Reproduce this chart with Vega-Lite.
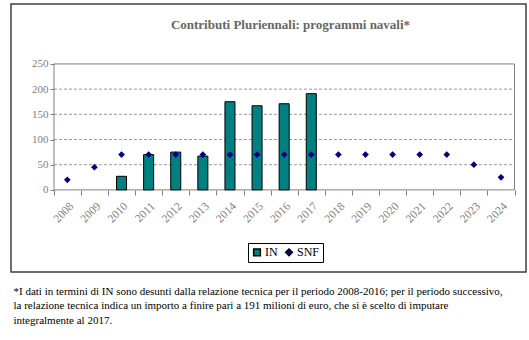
{
  "$schema": "https://vega.github.io/schema/vega-lite/v6.json",
  "width": 515,
  "height": 268,
  "autosize": {"type": "none"},
  "padding": {"left": 11, "top": 4, "right": 3, "bottom": 68},
  "title": {"text": "Contributi Pluriennali: programmi navali*", "font": "Liberation Serif", "fontSize": 13, "fontWeight": "bold", "color": "#666666", "offset": -34, "baseline": "middle", "dx": 22, "anchor": "middle"},
  "config": {"view": {"stroke": "#404040", "strokeWidth": 1.5}, "font": "Liberation Serif"},
  "resolve": {"scale": {"x": "independent"}},
  "layer": [
    {
      "data": {"values": [{"v": 50}, {"v": 100}, {"v": 150}, {"v": 200}]},
      "mark": {"type": "rule", "stroke": "#9a9a9a", "strokeDash": [3, 2], "strokeWidth": 1},
      "encoding": {
        "y": {"field": "v", "type": "quantitative", "scale": {"domain": [-163, 369], "nice": false, "zero": false}},
        "x": {"datum": 0, "type": "quantitative", "scale": {"domain": [-1.587, 17.424], "nice": false, "zero": false}, "axis": null},
        "x2": {"datum": 17}
      }
    },
    {
      "data": {"values": [{}]},
      "mark": {"type": "rect", "filled": false, "stroke": "#808080", "strokeWidth": 1},
      "encoding": {
        "y": {"datum": 0, "type": "quantitative", "scale": {"domain": [-163, 369], "nice": false, "zero": false}},
        "y2": {"datum": 250},
        "x": {"datum": 0, "type": "quantitative", "scale": {"domain": [-1.587, 17.424], "nice": false, "zero": false}, "axis": null},
        "x2": {"datum": 17}
      }
    },
    {
      "data": {"values": [
        {"year": "2010", "series": "IN", "value": 27},
        {"year": "2011", "series": "IN", "value": 70},
        {"year": "2012", "series": "IN", "value": 75},
        {"year": "2013", "series": "IN", "value": 67},
        {"year": "2014", "series": "IN", "value": 175},
        {"year": "2015", "series": "IN", "value": 167},
        {"year": "2016", "series": "IN", "value": 171},
        {"year": "2017", "series": "IN", "value": 191},
        {"year": "2008", "series": "SNF", "value": 20},
        {"year": "2009", "series": "SNF", "value": 45},
        {"year": "2010", "series": "SNF", "value": 70},
        {"year": "2011", "series": "SNF", "value": 70},
        {"year": "2012", "series": "SNF", "value": 70},
        {"year": "2013", "series": "SNF", "value": 70},
        {"year": "2014", "series": "SNF", "value": 70},
        {"year": "2015", "series": "SNF", "value": 70},
        {"year": "2016", "series": "SNF", "value": 70},
        {"year": "2017", "series": "SNF", "value": 70},
        {"year": "2018", "series": "SNF", "value": 70},
        {"year": "2019", "series": "SNF", "value": 70},
        {"year": "2020", "series": "SNF", "value": 70},
        {"year": "2021", "series": "SNF", "value": 70},
        {"year": "2022", "series": "SNF", "value": 70},
        {"year": "2023", "series": "SNF", "value": 50},
        {"year": "2024", "series": "SNF", "value": 25}
      ]},
      "layer": [
        {
          "transform": [{"filter": "datum.series === 'IN'"}],
          "mark": {"type": "bar", "stroke": "#000000", "strokeWidth": 1, "width": {"band": 0.37}},
          "encoding": {
            "x": {"field": "year", "type": "nominal",
              "scale": {"domain": ["2008","2009","2010","2011","2012","2013","2014","2015","2016","2017","2018","2019","2020","2021","2022","2023","2024"], "paddingInner": 0, "paddingOuter": 1.006, "align": 0.789},
              "axis": {
                "title": ["*I dati in termini di IN sono desunti dalla relazione tecnica per il periodo 2008-2016; per il periodo successivo,", "la relazione tecnica indica un importo a finire pari a 191 milioni di euro, che si è scelto di imputare", "integralmente al 2017."],
                "offset": -82, "domain": false, "tickBand": "extent", "tickSize": 5, "tickColor": "#808080",
                "labelAngle": -45, "labelFont": "Liberation Serif", "labelFontSize": 11.5, "labelColor": "#808080", "labelPadding": 5,
                "titleX": 2, "titleY": 95, "titleAlign": "left", "titleBaseline": "top", "titleFont": "Liberation Serif", "titleFontSize": 11, "titleFontWeight": "normal", "titleColor": "#000000", "titleLineHeight": 14.5
              }},
            "y": {"field": "value", "type": "quantitative", "scale": {"domain": [-163, 369], "nice": false, "zero": false},
              "axis": {"title": null, "values": [0, 50, 100, 150, 200, 250], "offset": -43, "domain": false, "grid": false, "tickSize": 4, "tickColor": "#808080", "labelFont": "Liberation Serif", "labelFontSize": 11, "labelColor": "#808080", "labelPadding": 2}},
            "color": {"field": "series", "type": "nominal", "scale": {"domain": ["IN", "SNF"], "range": ["#008080", "#000080"]},
              "legend": {"title": null, "orient": "none", "legendX": 237, "legendY": 239, "direction": "horizontal", "strokeColor": "#000000", "padding": 3, "labelFont": "Liberation Serif", "labelFontSize": 12, "labelColor": "#000000", "symbolSize": 45, "columnPadding": 4, "labelOffset": 2}}
          }
        },
        {
          "transform": [{"filter": "datum.series === 'SNF'"}],
          "mark": {"type": "point", "filled": true, "size": 45, "opacity": 1},
          "encoding": {
            "x": {"field": "year", "type": "nominal"},
            "y": {"field": "value", "type": "quantitative"},
            "color": {"field": "series", "type": "nominal"},
            "shape": {"field": "series", "type": "nominal", "scale": {"domain": ["IN", "SNF"], "range": ["square", "diamond"]}}
          }
        }
      ]
    }
  ]
}
